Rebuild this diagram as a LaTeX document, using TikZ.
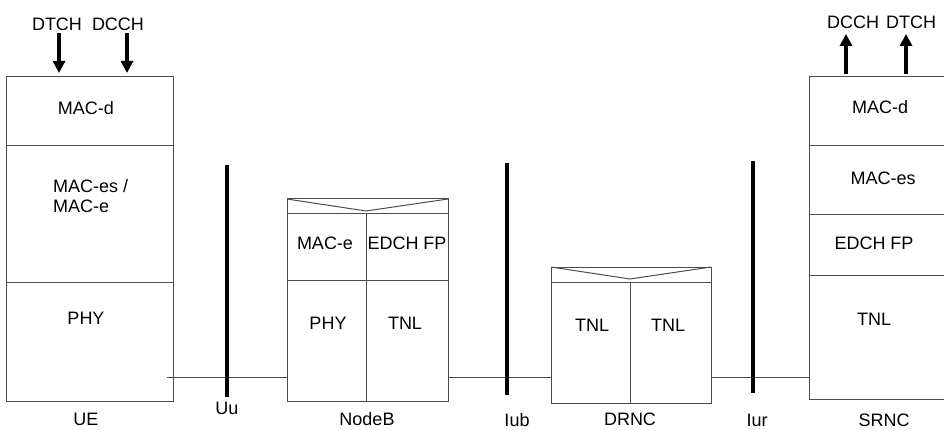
\documentclass[tikz,border=0pt]{standalone}
\usepackage{fontspec}
\setmainfont{Liberation Sans}
\usetikzlibrary{arrows.meta}

\tikzset{
	box/.style={draw=black!70, line width=1pt},
	lbl/.style={font=\fontsize{18}{20}\selectfont, inner sep=0pt},
	bar/.style={line width=4.5pt},
	link/.style={draw=black!70, line width=1pt},
	chan/.style={line width=3.5pt, -{Triangle[width=12pt,length=12pt]}},
}

\begin{document}
\begin{tikzpicture}[x=1pt,y=-1pt]
		\useasboundingbox (0,0) rectangle (944,430);
		%%%%% UE %%%%%
		\draw[box] (6,77) rectangle (173,401);
		\draw[box] (6,146) -- (173,146);
		\draw[box] (6,282) -- (173,282);
		\node[lbl] (uemacd) at (86,108) {MAC-d};
		\node[lbl, align=left, anchor=north west] (uemace) at (53,179) {MAC-es /\\MAC-e};
		\node[lbl] (uephy) at (86,318) {PHY};
		\node[lbl] (ue) at (86,419) {UE};
		
		\node[lbl] (uedtch) at (57,24) {DTCH};
		\node[lbl] (uedcch) at (118,24) {DCCH};
		\coordinate (uedtchtop) at (59,33);
		\coordinate (uedtchbot) at (59,73);
		\coordinate (uedcchtop) at (127,33);
		\coordinate (uedcchbot) at (127,73);
		\draw[chan] (uedtchtop) -- (uedtchbot);
		\draw[chan] (uedcchtop) -- (uedcchbot);
		
		%%%%% NodeB %%%%%
		\draw[box] (287,199) rectangle (448,401);
		\draw[box] (287,214) -- (448,214);
		\draw[box] (287,199) -- (366,211) -- (448,199);
		\draw[box] (366,214) -- (366,401);
		\draw[box] (287,280) -- (448,280);
		\node[lbl] (nbmace) at (325,243) {MAC-e};
		\node[lbl] (nbfp) at (407,243) {EDCH FP};
		\node[lbl] (nbphy) at (328,323) {PHY};
		\node[lbl] (nbtnl) at (405,323) {TNL};
		\node[lbl] (nodeb) at (367,419) {NodeB};
		
		%%%%% DRNC %%%%%
		\draw[box] (551,267) rectangle (711,403);
		\draw[box] (551,282) -- (711,282);
		\draw[box] (551,267) -- (630,279) -- (711,267);
		\draw[box] (630,282) -- (630,403);
		\node[lbl] (drtnla) at (592,325) {TNL};
		\node[lbl] (drtnlb) at (668,325) {TNL};
		\node[lbl] (drnc) at (630,419) {DRNC};
		
		%%%%% SRNC %%%%%
		\draw[box] (809,77) rectangle (946,399);
		\draw[box] (809,146) -- (946,146);
		\draw[box] (809,215) -- (946,215);
		\draw[box] (809,275) -- (946,275);
		\node[lbl] (srmacd) at (880,107) {MAC-d};
		\node[lbl] (srmaces) at (883,178) {MAC-es};
		\node[lbl] (srfp) at (874,243) {EDCH FP};
		\node[lbl] (srtnl) at (874,319) {TNL};
		\node[lbl] (srnc) at (884,420) {SRNC};
		
		\node[lbl] (srdcch) at (853,22) {DCCH};
		\node[lbl] (srdtch) at (911,22) {DTCH};
		\coordinate (srdcchbot) at (846,74);
		\coordinate (srdcchtop) at (846,34);
		\coordinate (srdtchbot) at (906,74);
		\coordinate (srdtchtop) at (906,34);
		\draw[chan] (srdcchbot) -- (srdcchtop);
		\draw[chan] (srdtchbot) -- (srdtchtop);
		
		%%%%% LINKS %%%%%
		\coordinate (uelink) at (167,377);
		\coordinate (nbwest) at (287,377);
		\coordinate (nbeast) at (448,377);
		\coordinate (drwest) at (551,377);
		\coordinate (dreast) at (711,377);
		\coordinate (srwest) at (809,377);
		\draw[link] (uelink) -- (nbwest);
		\draw[link] (nbeast) -- (drwest);
		\draw[link] (dreast) -- (srwest);
		
		%%%%% INTERFACES %%%%%
		\coordinate (uutop) at (227,165);
		\coordinate (uubot) at (227,397);
		\coordinate (iubtop) at (507,163);
		\coordinate (iubbot) at (507,395);
		\coordinate (iurtop) at (753,161);
		\coordinate (iurbot) at (753,393);
		\draw[bar] (uutop) -- (uubot);
		\draw[bar] (iubtop) -- (iubbot);
		\draw[bar] (iurtop) -- (iurbot);
		\node[lbl] (uu) at (227,408) {Uu};
		\node[lbl] (iub) at (517,420) {Iub};
		\node[lbl] (iur) at (757,420) {Iur};
		%%%%% END %%%%%
\end{tikzpicture}
\end{document}
